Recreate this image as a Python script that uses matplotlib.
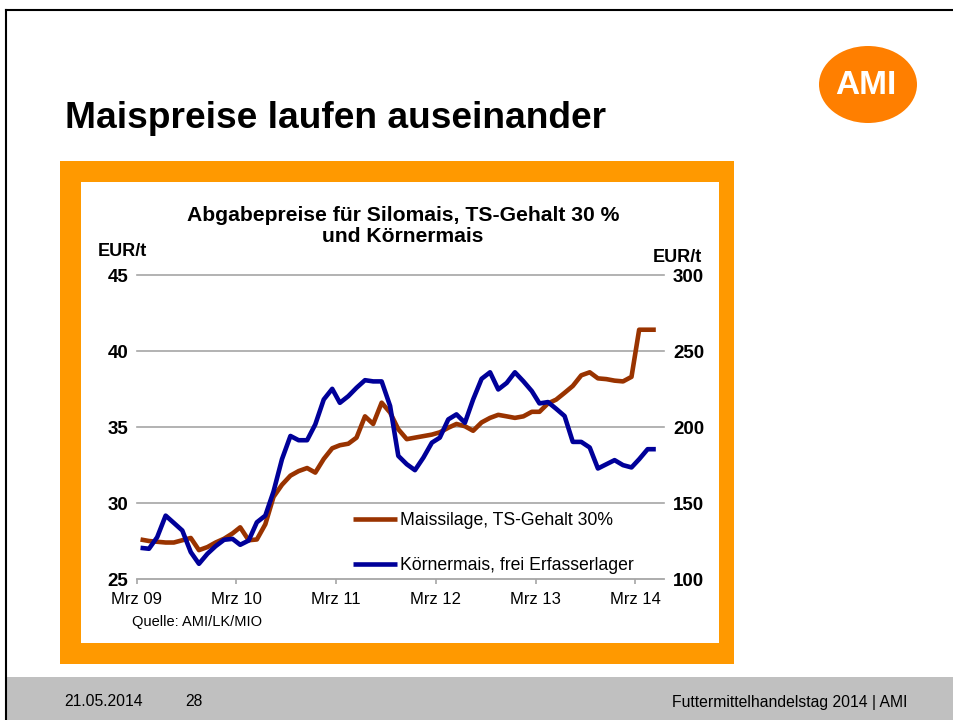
import matplotlib
matplotlib.use('Agg')
import matplotlib.pyplot as plt
from matplotlib.patches import Rectangle, Ellipse
from matplotlib.lines import Line2D
import pandas as pd

plt.rcParams['font.family'] = ['Liberation Sans', 'DejaVu Sans']

# ---------------- data ----------------
months = pd.date_range('2009-03-01', '2014-05-01', freq='MS') + pd.Timedelta(days=14)

silomais = [27.6, 27.5, 27.45, 27.4, 27.4, 27.55, 27.7, 26.9, 27.1, 27.4,
            27.65, 28.0, 28.4, 27.55, 27.6, 28.6, 30.4, 31.2, 31.8, 32.1,
            32.3, 32.0, 32.9, 33.6, 33.8, 33.9, 34.3, 35.7, 35.2, 36.6,
            35.95, 34.85, 34.2, 34.3, 34.4, 34.5, 34.65, 34.95, 35.2, 35.05,
            34.75, 35.3, 35.6, 35.8, 35.7, 35.6, 35.7, 36.0, 36.0, 36.55,
            36.8, 37.25, 37.7, 38.4, 38.6, 38.2, 38.15, 38.05, 38.0, 38.3,
            41.4, 41.4, 41.4]

koernermais = [120.5, 119.9, 127.5, 141.7, 136.9, 131.9, 117.7, 110.0, 116.6, 121.6,
               125.8, 126.4, 122.5, 125.3, 137.3, 141.7, 157.5, 178.8, 194.1, 191.3,
               191.3, 201.7, 218.1, 225.1, 215.9, 220.3, 225.8, 230.8, 230.0, 230.0,
               213.8, 181.0, 175.5, 171.6, 179.9, 189.7, 193.0, 205.0, 208.3, 202.8,
               218.1, 231.7, 236.0, 224.7, 229.0, 236.0, 230.1, 223.6, 215.5, 216.4,
               212.0, 207.2, 190.2, 190.2, 186.5, 172.7, 175.5, 178.2, 174.9, 173.4,
               178.8, 185.4, 185.4]

tick_dates = pd.to_datetime(['2009-03-01', '2010-03-01', '2011-03-01',
                             '2012-03-01', '2013-03-01', '2014-03-01'])
tick_labels = ['Mrz 09', 'Mrz 10', 'Mrz 11', 'Mrz 12', 'Mrz 13', 'Mrz 14']
left_ticks = [25, 30, 35, 40, 45]
right_ticks = [100, 150, 200, 250, 300]

series_labels = ['Maissilage, TS-Gehalt 30%', 'Körnermais, frei Erfasserlager']

# ---------------- figure ----------------
W, H = 954, 720
fig = plt.figure(figsize=(W / 100, H / 100), dpi=100)
fig.patch.set_facecolor('white')


def fx(px):
    return px / W


def fy(py):
    return 1 - py / H


def rect(x0, y0, x1, y1, color, z=-10):
    fig.patches.append(Rectangle((fx(x0), fy(y1)), fx(x1) - fx(x0), fy(y0) - fy(y1),
                                 transform=fig.transFigure, facecolor=color,
                                 edgecolor='none', zorder=z))


# slide decorations
rect(6, 677, W, H, '#C0C0C0')
rect(60, 161, 734, 664, '#FF9900', z=-9)
rect(81, 182, 719, 643, 'white', z=-8)
fig.lines.append(Line2D([fx(6), fx(W)], [fy(10), fy(10)], transform=fig.transFigure,
                        color='black', lw=1.5, zorder=5))
fig.lines.append(Line2D([fx(6), fx(6)], [fy(10), fy(H)], transform=fig.transFigure,
                        color='black', lw=1.5, zorder=5))

# logo
fig.patches.append(Ellipse((fx(868), fy(84.5)), 98 / W, 77 / H, transform=fig.transFigure,
                           facecolor='#FF7F00', edgecolor='none', zorder=2))
fig.text(fx(866), fy(85), 'AMI', color='white', fontsize=24, fontweight='bold',
         ha='center', va='center', zorder=3)

# titles
fig.text(fx(65), fy(128), 'Maispreise laufen auseinander', fontsize=26.7, fontweight='bold',
         ha='left', va='baseline')
fig.text(fx(403), fy(226), 'Abgabepreise für Silomais, TS-Gehalt 30 %\nund Körnermais',
         fontsize=15.2, fontweight='bold', ha='center', va='center', linespacing=1.15)

fig.text(fx(122), fy(252), 'EUR/t', fontsize=13, fontweight='bold', ha='center', va='center')
fig.text(fx(677), fy(257), 'EUR/t', fontsize=13, fontweight='bold', ha='center', va='center')
fig.text(fx(132), fy(622), 'Quelle: AMI/LK/MIO', fontsize=10.5, ha='left', va='center')

# footer
fig.text(fx(64), fy(702), '21.05.2014', fontsize=11.3, ha='left', va='center')
fig.text(fx(185), fy(702), '28', fontsize=11.3, ha='left', va='center')
fig.text(fx(907), fy(702), 'Futtermittelhandelstag 2014 | AMI', fontsize=11.3,
         ha='right', va='center')

# ---------------- chart ----------------
ax = fig.add_axes([fx(136.7), fy(579), (664 - 136.7) / W, (579 - 275) / H])
ax.patch.set_alpha(0)
ax2 = ax.twinx()
ax2.patch.set_alpha(0)

brown = '#993300'
blue = '#000099'
grid_c = '#A6A6A6'

l1, = ax.plot(months, silomais, color=brown, lw=3.3, solid_joinstyle='round',
              solid_capstyle='butt', label=series_labels[0], zorder=3)
l2, = ax2.plot(months, koernermais, color=blue, lw=3.3, solid_joinstyle='round',
               solid_capstyle='butt', label=series_labels[1], zorder=3)

ax.set_ylim(25, 45)
ax2.set_ylim(100, 300)
ax.set_xlim(pd.Timestamp('2009-03-01'), pd.Timestamp('2014-06-14'))

ax.set_yticks(left_ticks)
ax2.set_yticks(right_ticks)
ax.set_xticks(tick_dates)
ax.set_xticklabels(tick_labels)

for a in (ax, ax2):
    for s in ('top', 'left', 'right', 'bottom'):
        a.spines[s].set_visible(False)

ax.spines['bottom'].set_visible(True)
ax.spines['bottom'].set_color(grid_c)
ax.spines['bottom'].set_linewidth(1.3)

for v in left_ticks[1:]:
    ax.axhline(v, color=grid_c, lw=1.2, zorder=1, clip_on=False)

ax.tick_params(axis='x', direction='out', length=3.5, width=1.2, color=grid_c,
               labelsize=12, pad=6)
ax.tick_params(axis='y', length=0, pad=6, labelsize=13.5)
ax2.tick_params(axis='y', length=0, pad=6.5, labelsize=13.5)
for t in ax.get_yticklabels() + ax2.get_yticklabels():
    t.set_fontweight('bold')

fig.legend(handles=[l1, l2], loc='upper left', bbox_to_anchor=(fx(353), fy(512)),
           bbox_transform=fig.transFigure, frameon=False, fontsize=12.7,
           handlelength=2.5, handletextpad=0.15, labelspacing=1.6,
           borderpad=0, borderaxespad=0)

fig.savefig('out.png', dpi=100)
